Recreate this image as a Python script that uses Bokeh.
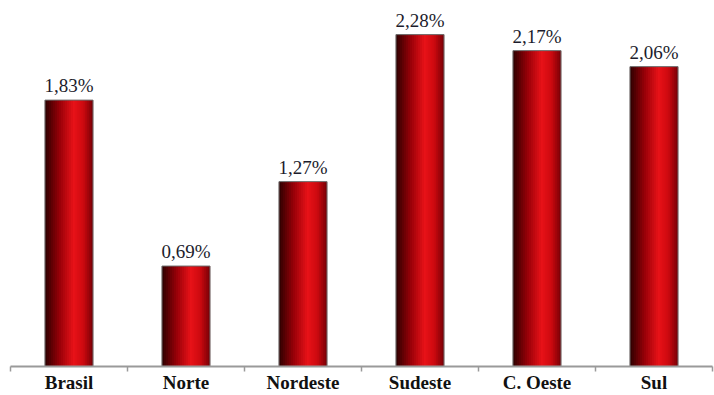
from bokeh.plotting import figure
from bokeh.models import ColumnDataSource, FixedTicker, Range1d
from bokeh.core.properties import value
from bokeh.embed import file_html
from bokeh.resources import INLINE

categories = ["Brasil", "Norte", "Nordeste", "Sudeste", "C. Oeste", "Sul"]
values = [1.83, 0.69, 1.27, 2.28, 2.17, 2.06]
value_labels = [f"{v:.2f}%".replace(".", ",") for v in values]

centers = [i + 0.5 for i in range(len(categories))]
bar_w = 0.41
SERIF = "Liberation Serif"

p = figure(width=714, height=395, output_backend="svg", toolbar_location=None,
           x_range=Range1d(0, len(categories)), y_range=Range1d(0, 2.48),
           min_border_left=10, min_border_right=2, min_border_top=5, min_border_bottom=0)
p.outline_line_color = None
p.background_fill_color = "white"
p.border_fill_color = "white"
p.grid.visible = False
p.yaxis.visible = False

# gradient strips
anchors = [(0.0, (45, 0, 0)), (0.3, (150, 0, 8)), (0.6, (232, 18, 24)),
           (0.8, (205, 10, 16)), (1.0, (120, 0, 6))]

def grad(t):
    for (t0, c0), (t1, c1) in zip(anchors[:-1], anchors[1:]):
        if t0 <= t <= t1:
            f = (t - t0) / (t1 - t0)
            return "#%02x%02x%02x" % tuple(int(round(a + (b - a) * f)) for a, b in zip(c0, c1))
    return "#780006"

N = 24
sw = bar_w / N
for k in range(N):
    xs = [c - bar_w / 2 + (k + 0.5) * sw for c in centers]
    src = ColumnDataSource(dict(x=xs, top=values))
    p.vbar(x="x", top="top", width=sw * 1.15, bottom=0, source=src,
           fill_color=grad((k + 0.5) / N), line_color=None)

src = ColumnDataSource(dict(x=centers, top=values, lab=value_labels))
p.vbar(x="x", top="top", width=bar_w, bottom=0, source=src,
       fill_color=None, line_color="#6b6b6b", line_width=1)
p.text(x="x", y="top", text="lab", source=src, text_align="center",
       text_baseline="bottom", y_offset=-4, text_font=value(SERIF),
       text_font_size="19px", text_color="#1c1c2c")

ax = p.xaxis[0]
ax.ticker = FixedTicker(ticks=centers, minor_ticks=list(range(len(categories) + 1)))
ax.major_label_overrides = {c: n for c, n in zip(centers, categories)}
ax.major_tick_line_color = None
ax.major_tick_out = 0
ax.major_tick_in = 0
ax.minor_tick_line_color = "#9a9a9a"
ax.minor_tick_out = 5
ax.minor_tick_in = 0
ax.minor_tick_line_width = 1.5
ax.axis_line_color = "#9a9a9a"
ax.axis_line_width = 2
ax.major_label_text_font = SERIF
ax.major_label_text_font_style = "bold"
ax.major_label_text_font_size = "19px"
ax.major_label_text_color = "#111111"
ax.major_label_standoff = 0

open("out.html", "w").write(file_html(p, INLINE))
